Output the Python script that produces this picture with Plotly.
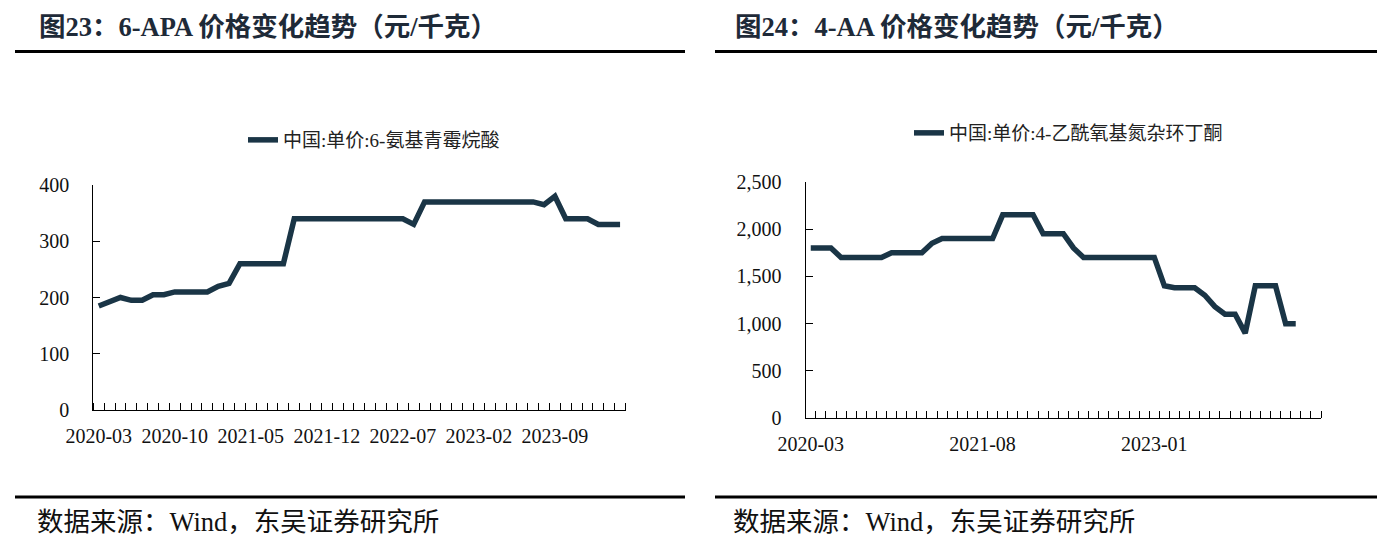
import plotly.graph_objects as go

W, H = 1377, 550

# ---------------- data ----------------
months_left = [f"{y}-{m:02d}" for y in range(2020, 2025) for m in range(1, 13)]
months_left = months_left[months_left.index("2020-03"):months_left.index("2024-03") + 1]
apa_values = [185, 192, 200, 195, 195, 205, 205, 210, 210, 210, 210, 220, 225,
              260, 260, 260, 260, 260,
              340, 340, 340, 340, 340, 340, 340, 340, 340, 340, 340,
              330,
              370, 370, 370, 370, 370, 370, 370, 370, 370, 370, 370,
              365, 380, 340, 340, 340, 330, 330, 330]
left_tick_labels = ["2020-03", "2020-10", "2021-05", "2021-12", "2022-07", "2023-02", "2023-09"]

months_right = [f"{y}-{m:02d}" for y in range(2020, 2025) for m in range(1, 13)]
months_right = months_right[months_right.index("2020-03"):months_right.index("2024-05") + 1]
aa_values = [1800, 1800, 1800, 1700, 1700, 1700, 1700, 1700, 1750, 1750, 1750, 1750,
             1850, 1900, 1900, 1900, 1900, 1900, 1900, 2150, 2150, 2150, 2150,
             1950, 1950, 1950, 1800, 1700, 1700, 1700, 1700, 1700, 1700, 1700, 1700,
             1400, 1380, 1380, 1380, 1300, 1180, 1100, 1100, 900, 1400, 1400, 1400,
             1000, 1000, None, None]
right_tick_labels = ["2020-03", "2021-08", "2023-01"]

left_name = "中国:单价:6-氨基青霉烷酸"
right_name = "中国:单价:4-乙酰氧基氮杂环丁酮"
left_title = "图23：6-APA 价格变化趋势（元/千克）"
right_title = "图24：4-AA 价格变化趋势（元/千克）"
source_text = "数据来源：Wind，东吴证券研究所"

# ---------------- styling ----------------
LINE_COLOR = "#1A3546"
SERIF = "Liberation Serif, Noto Sans CJK SC, serif"
LEG_FONT = "Liberation Serif, Noto Sans CJK SC, serif"


def px_x(p):
    return p / W


def px_y(p):
    return (H - p) / H


xl = list(range(len(months_left)))
xr = list(range(len(months_right)))

fig = go.Figure()
fig.add_trace(go.Scatter(x=xl, y=apa_values, mode="lines", name=left_name,
                         line=dict(color=LINE_COLOR, width=5.5),
                         xaxis="x", yaxis="y", legend="legend",
                         customdata=months_left,
                         hovertemplate="%{customdata}: %{y}<extra></extra>"))
fig.add_trace(go.Scatter(x=xr, y=aa_values, mode="lines", name=right_name,
                         line=dict(color=LINE_COLOR, width=5.5),
                         xaxis="x2", yaxis="y2", legend="legend2",
                         customdata=months_right, connectgaps=False,
                         hovertemplate="%{customdata}: %{y}<extra></extra>"))

tickfont = dict(family=SERIF, size=20, color="#111")

common_x = dict(showline=True, linecolor="black", linewidth=1.3, showgrid=False,
                zeroline=False, ticks="", tickfont=tickfont, automargin=False,
                ticklabelstandoff=8,
                minor=dict(ticks="inside", ticklen=7, tickcolor="black", tickwidth=1,
                           tick0=-0.5, dtick=1, showgrid=False))
common_y = dict(showline=True, linecolor="black", linewidth=1.3, showgrid=False,
                zeroline=False, ticks="inside", ticklen=7, tickcolor="black",
                tickwidth=1, tickfont=tickfont, ticklabelstandoff=19,
                automargin=False)

fig.update_layout(
    width=W, height=H, autosize=False,
    margin=dict(l=0, r=0, t=0, b=0, pad=0, autoexpand=False),
    paper_bgcolor="white", plot_bgcolor="white",
    xaxis=dict(common_x, domain=[px_x(93.3), px_x(625.5)],
               range=[-0.5, len(months_left) - 0.5],
               tickvals=[months_left.index(t) for t in left_tick_labels],
               ticktext=left_tick_labels, anchor="y"),
    yaxis=dict(common_y, domain=[px_y(410), px_y(185)], range=[0, 400],
               dtick=100, anchor="x"),
    xaxis2=dict(common_x, domain=[px_x(805.7), px_x(1321)],
                range=[-0.5, len(months_right) - 0.5],
                tickvals=[months_right.index(t) for t in right_tick_labels],
                ticktext=right_tick_labels, anchor="y2"),
    yaxis2=dict(common_y, domain=[px_y(418.3), px_y(181.7)], range=[0, 2500],
                dtick=500, tickformat=",", anchor="x2"),
    legend=dict(x=px_x(243), y=px_y(140), xanchor="left", yanchor="middle",
                font=dict(family=LEG_FONT, size=19, color="#222"),
                bgcolor="rgba(0,0,0,0)"),
    legend2=dict(x=px_x(909), y=px_y(133), xanchor="left", yanchor="middle",
                 font=dict(family=LEG_FONT, size=19, color="#222"),
                 bgcolor="rgba(0,0,0,0)"),
    showlegend=True,
)

# titles and source
title_font = dict(family=SERIF, size=26.5, color="#1E2A38")
for x0, txt in [(37, left_title), (733, right_title)]:
    fig.add_annotation(x=px_x(x0), y=px_y(27), xref="paper", yref="paper",
                       text=f"<b>{txt}</b>", showarrow=False, xanchor="left",
                       yanchor="middle", font=title_font)
for x0 in [35, 731]:
    fig.add_annotation(x=px_x(x0), y=px_y(522), xref="paper", yref="paper",
                       text=source_text, showarrow=False, xanchor="left",
                       yanchor="middle", font=dict(family=SERIF, size=26.5, color="#111"))

# separator rules
for (a, b) in [(15, 685), (715, 1377)]:
    for yy in [51.5, 497]:
        fig.add_shape(type="line", xref="paper", yref="paper",
                      x0=px_x(a), x1=px_x(b), y0=px_y(yy), y1=px_y(yy),
                      line=dict(color="black", width=3))

fig.write_html("out.html",
               config={"displayModeBar": False},
               post_script="document.body.style.margin='0';"
                           "document.body.style.overflow='hidden';")
